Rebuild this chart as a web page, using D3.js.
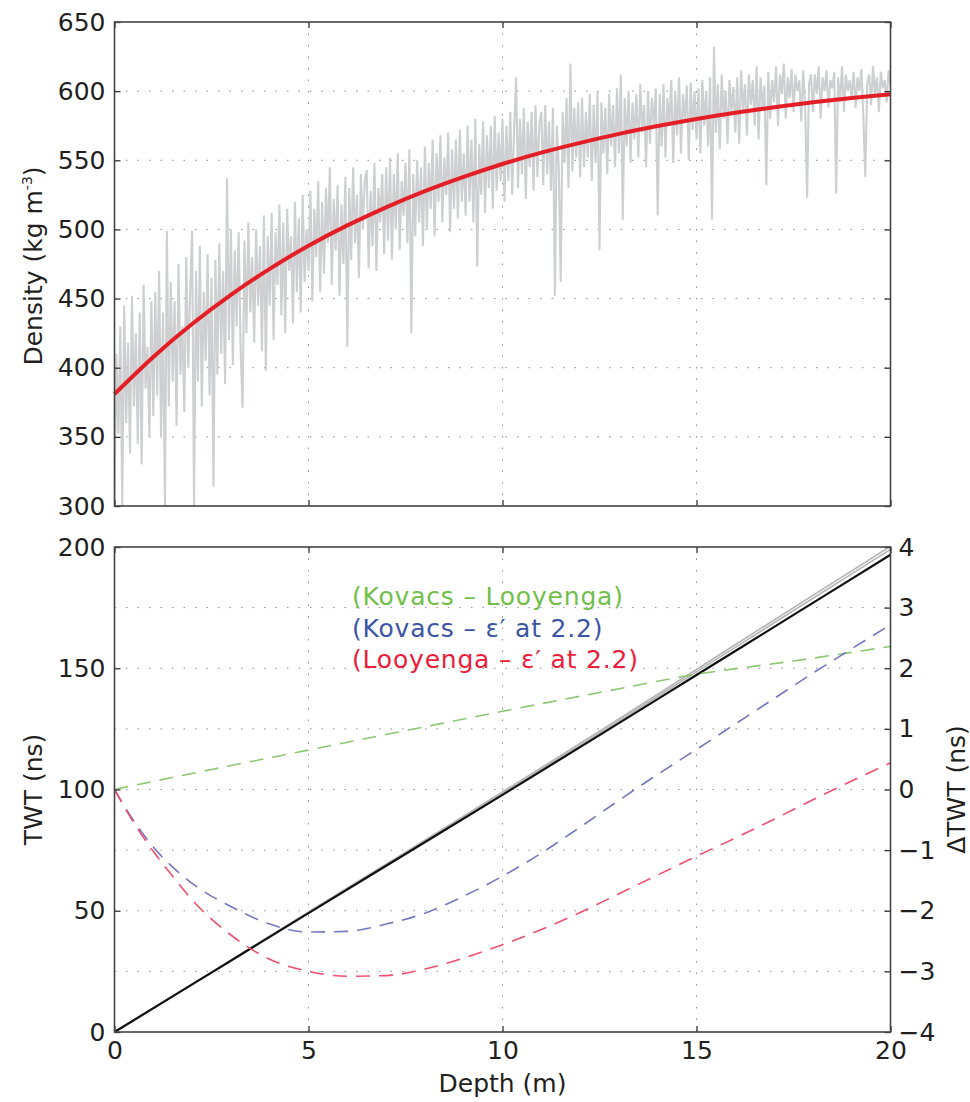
<!DOCTYPE html>
<html>
<head>
<meta charset="utf-8">
<script src="https://cdn.jsdelivr.net/npm/d3@7"></script>
<style>
body { margin: 0; background: #fff; }
text { font-family: "DejaVu Sans", sans-serif; fill: #231f20; }
.axis path { display: none; }
.axis line { stroke: #333; stroke-width: 1.3; }
.axis text { font-size: 25px; font-family: "DejaVu Sans", sans-serif; fill: #231f20; }
.grid line { stroke: #8c8c8c; stroke-width: 1; stroke-dasharray: 1.5,10; }
.frame { fill: none; stroke: #444; stroke-width: 1.6; }
</style>
</head>
<body>
<svg id="chart" width="970" height="1102"></svg>
<script>
// ---- data ----
var depthTicks = [0, 5, 10, 15, 20];
var densityTicks = [300, 350, 400, 450, 500, 550, 600, 650];
var twtTicks = [0, 50, 100, 150, 200];
var deltaTicks = [-4, -3, -2, -1, 0, 1, 2, 3, 4];

// measured density, one value every 0.05 m (rows = 1 m)
var coreStep = 0.05;
var coreDensity = [
  305, 410, 352, 430, 300, 445, 360, 418, 338, 452, 372, 425, 345, 440, 330, 460, 385, 415, 350, 448,
  365, 455, 380, 470, 350, 440, 300, 499, 372, 462, 390, 448, 358, 475, 395, 430, 368, 480, 400, 455,
  499, 300, 470, 390, 488, 372, 455, 405, 482, 380, 465, 314, 478, 395, 490, 410, 470, 388, 537, 420,
  500, 402, 485, 430, 498, 415, 371, 492, 425, 505, 440, 480, 418, 500, 445, 488, 412, 510, 398, 495,
  445, 512, 420, 498, 460, 518, 438, 505, 425, 515, 470, 495, 432, 520, 455, 508, 440, 525, 462, 500,
  470, 528, 448, 515, 480, 535, 455, 520, 468, 530, 490, 545, 460, 522, 485, 532, 452, 518, 475, 538,
  415, 530, 478, 545, 490, 525, 465, 540, 500, 535, 543, 472, 528, 488, 548, 470, 530, 505, 540, 482,
  545, 492, 552, 478, 540, 500, 555, 485, 535, 510, 548, 490, 558, 425, 540, 495, 550, 505, 545, 488,
  560, 500, 548, 515, 565, 495, 555, 520, 568, 505, 552, 525, 570, 498, 558, 515, 565, 508, 572, 520,
  555, 510, 575, 520, 565, 505, 580, 473, 562, 525, 578, 512, 568, 530, 575, 515, 582, 528, 570, 535,
  580, 520, 575, 535, 585, 525, 572, 610, 530, 580, 540, 588, 522, 578, 545, 585, 528, 590, 538, 575,
  585, 532, 590, 540, 578, 528, 588, 452, 575, 545, 462, 585, 548, 595, 530, 620, 542, 588, 552, 592,
  538, 595, 545, 585, 552, 598, 535, 590, 548, 600, 485, 592, 555, 588, 540, 598, 560, 590, 545, 602,
  555, 612, 507, 595, 560, 600, 548, 592, 565, 598, 552, 605, 570, 590, 545, 600, 562, 595, 575, 602,
  510, 598, 560, 605, 552, 595, 575, 608, 548, 600, 568, 610, 555, 598, 578, 604, 550, 606, 572, 600,
  565, 602, 555, 608, 575, 600, 560, 610, 507, 632, 570, 605, 558, 612, 580, 600, 562, 608, 585, 603,
  570, 610, 562, 615, 585, 605, 568, 612, 590, 608, 575, 618, 565, 610, 588, 604, 532, 614, 580, 608,
  592, 618, 575, 612, 598, 620, 580, 610, 595, 616, 585, 612, 600, 608, 578, 615, 590, 523, 605, 612,
  585, 612, 598, 618, 580, 610, 600, 615, 588, 608, 602, 614, 526, 610, 592, 618, 585, 612, 600, 608,
  595, 614, 588, 610, 600, 616, 582, 538, 605, 612, 590, 618, 598, 610, 585, 614, 602, 608, 592, 615,
  605
];

// fitted density curve
var fitDepth = [0, 1, 2, 3, 4, 5, 6, 7, 8, 9, 10, 11, 12, 13, 14, 15, 16, 17, 18, 19, 20];
var fitDensity = [381, 407.8, 431.6, 452.7, 471.5, 488.2, 502.9, 516, 527.7, 538, 547.3, 555.5, 562.6, 569.1, 574.8, 579.9, 584.4, 588.4, 592, 595.1, 597.8];

// two-way travel time
var twtDepth = [0, 2.5, 5, 7.5, 10, 12.5, 15, 17.5, 20];
var twtConst = [0, 24.5, 49, 73.4, 97.8, 122.4, 147.2, 172, 196.8];
var twtKovacs = [0, 24.7, 49.5, 74.2, 99, 124, 149.5, 175, 200.3];
var twtLooyenga = [0, 24.6, 49.2, 73.6, 98.4, 123.2, 148.5, 173.8, 199];

// differences (right axis)
var greenDepth = [0, 2.5, 5, 7.5, 10, 12.5, 15, 17.5, 20];
var kovLooy = [0, 0.33, 0.65, 0.97, 1.29, 1.6, 1.9, 2.12, 2.36];
var diffDepth = [0, 0.5, 1, 1.5, 2, 3, 4, 5, 6, 7, 8, 9, 10, 11, 12, 13, 14, 15, 16, 17, 18, 19, 20];
var kovConst = [0, -0.52, -0.95, -1.28, -1.55, -1.93, -2.22, -2.35, -2.34, -2.22, -2.04, -1.76, -1.43, -1.05, -0.62, -0.18, 0.25, 0.66, 1.08, 1.5, 1.92, 2.32, 2.72];
var looyConst = [0, -0.55, -1.02, -1.43, -1.82, -2.4, -2.8, -3.0, -3.08, -3.07, -2.96, -2.78, -2.56, -2.31, -2.03, -1.72, -1.41, -1.1, -0.8, -0.49, -0.17, 0.14, 0.44];

var legendLabels = ["(Kovacs \u2013 Looyenga)", "(Kovacs \u2013 \u03b5\u2032 at 2.2)", "(Looyenga \u2013 \u03b5\u2032 at 2.2)"];
var legendColors = ["#72be4b", "#3d55a5", "#ec1c3a"];
var curveColors = ["#8cc872", "#7478bd", "#f0506e"];

// ---- layout ----
var left = 114.5, right = 890.5;
var top1 = 22, bottom1 = 506;
var top2 = 547, bottom2 = 1032;

var svg = d3.select('#chart');

var x = d3.scaleLinear().domain([0, 20]).range([left, right]);
var yDen = d3.scaleLinear().domain([300, 650]).range([bottom1, top1]);
var yTwt = d3.scaleLinear().domain([0, 200]).range([bottom2, top2]);
var yDelta = d3.scaleLinear().domain([-4, 4]).range([bottom2, top2]);

function grid(g, xs, ys, y0, y1) {
    var gg = g.append('g').attr('class', 'grid');
    gg.selectAll('line.v')
        .data(xs.filter(d => d > 0 && d < 20))
        .enter().append('line')
        .attr('x1', d => x(d)).attr('x2', d => x(d))
        .attr('y1', y0).attr('y2', y1);
    gg.selectAll('line.h')
        .data(ys)
        .enter().append('line')
        .attr('x1', left).attr('x2', right)
        .attr('y1', d => d).attr('y2', d => d);
}

// ===== top panel =====
var p1 = svg.append('g');
grid(p1, depthTicks, densityTicks.slice(1, -1).map(d => yDen(d)), top1, bottom1);

p1.append('clipPath').attr('id', 'clip1')
    .append('rect').attr('x', left).attr('y', top1).attr('width', right - left).attr('height', bottom1 - top1);

var coreLine = d3.line()
    .x((d, i) => x(i * coreStep))
    .y(d => yDen(d));

p1.append('path')
    .datum(coreDensity)
    .attr('clip-path', 'url(#clip1)')
    .attr('d', coreLine)
    .attr('fill', 'none')
    .attr('stroke', '#cdcfd1')
    .attr('stroke-width', 2.1);

var fitLine = d3.line()
    .x((d, i) => x(fitDepth[i]))
    .y(d => yDen(d))
    .curve(d3.curveNatural);

p1.append('path')
    .datum(fitDensity)
    .attr('d', fitLine)
    .attr('fill', 'none')
    .attr('stroke', '#e41e26')
    .attr('stroke-width', 4);

p1.append('g').attr('class', 'axis')
    .attr('transform', `translate(${left},0)`)
    .call(d3.axisLeft(yDen).tickValues(densityTicks).tickSizeInner(-6).tickSizeOuter(0).tickPadding(9));
p1.append('g').attr('class', 'axis')
    .attr('transform', `translate(${right},0)`)
    .call(d3.axisRight(yDen).tickValues(densityTicks).tickSizeInner(-6).tickSizeOuter(0).tickFormat(''));
p1.append('g').attr('class', 'axis')
    .attr('transform', `translate(0,${bottom1})`)
    .call(d3.axisBottom(x).tickValues(depthTicks).tickSizeInner(-6).tickSizeOuter(0).tickFormat(''));
p1.append('g').attr('class', 'axis')
    .attr('transform', `translate(0,${top1})`)
    .call(d3.axisTop(x).tickValues(depthTicks).tickSizeInner(-6).tickSizeOuter(0).tickFormat(''));

p1.append('rect').attr('class', 'frame')
    .attr('x', left).attr('y', top1).attr('width', right - left).attr('height', bottom1 - top1);

var denLabel = p1.append('text')
    .attr('transform', `translate(42,${(top1 + bottom1) / 2 + 2}) rotate(-90)`)
    .attr('text-anchor', 'middle')
    .attr('font-size', '25px');
denLabel.append('tspan').text('Density (kg m');
denLabel.append('tspan').attr('font-size', '14px').attr('baseline-shift', '75%').text('-3');
denLabel.append('tspan').text(')');

// ===== bottom panel =====
var p2 = svg.append('g');
grid(p2, depthTicks, deltaTicks.slice(1, -1).map(d => yDelta(d)), top2, bottom2);

p2.append('clipPath').attr('id', 'clip2')
    .append('rect').attr('x', left).attr('y', top2).attr('width', right - left).attr('height', bottom2 - top2);

var twtLine = d3.line()
    .x((d, i) => x(twtDepth[i]))
    .y(d => yTwt(d))
    .curve(d3.curveMonotoneX);

[twtKovacs, twtLooyenga].forEach(function(s) {
    p2.append('path').datum(s)
        .attr('clip-path', 'url(#clip2)')
        .attr('d', twtLine)
        .attr('fill', 'none')
        .attr('stroke', '#b5b5b5')
        .attr('stroke-width', 1.6);
});
p2.append('path').datum(twtConst)
    .attr('d', twtLine)
    .attr('fill', 'none')
    .attr('stroke', '#111')
    .attr('stroke-width', 2.2);

function deltaLine(depths) {
    return d3.line()
        .x((d, i) => x(depths[i]))
        .y(d => yDelta(d))
        .curve(d3.curveMonotoneX);
}

var diffSeries = [[greenDepth, kovLooy], [diffDepth, kovConst], [diffDepth, looyConst]];
diffSeries.forEach(function(s, k) {
    p2.append('path').datum(s[1])
        .attr('d', deltaLine(s[0]))
        .attr('fill', 'none')
        .attr('stroke', curveColors[k])
        .attr('stroke-width', 1.6)
        .attr('stroke-dasharray', '14,9');
});

var fmtMinus = d => d < 0 ? '\u2212' + Math.abs(d) : '' + d;

p2.append('g').attr('class', 'axis')
    .attr('transform', `translate(${left},0)`)
    .call(d3.axisLeft(yTwt).tickValues(twtTicks).tickSizeInner(-6).tickSizeOuter(0).tickPadding(9));
p2.append('g').attr('class', 'axis')
    .attr('transform', `translate(${right},0)`)
    .call(d3.axisRight(yDelta).tickValues(deltaTicks).tickSizeInner(-6).tickSizeOuter(0).tickPadding(8).tickFormat(fmtMinus));
p2.append('g').attr('class', 'axis')
    .attr('transform', `translate(0,${bottom2})`)
    .call(d3.axisBottom(x).tickValues(depthTicks).tickSizeInner(-6).tickSizeOuter(0).tickPadding(9));
p2.append('g').attr('class', 'axis')
    .attr('transform', `translate(0,${top2})`)
    .call(d3.axisTop(x).tickValues(depthTicks).tickSizeInner(-6).tickSizeOuter(0).tickFormat(''));

p2.append('rect').attr('class', 'frame')
    .attr('x', left).attr('y', top2).attr('width', right - left).attr('height', bottom2 - top2);

p2.selectAll('text.legend')
    .data(legendLabels)
    .enter().append('text')
    .attr('class', 'legend')
    .attr('x', 352)
    .attr('y', (d, i) => 605 + i * 31.5)
    .attr('font-size', '25px')
    .attr('letter-spacing', '0.8')
    .style('fill', (d, i) => legendColors[i])
    .text(d => d);

p2.append('text')
    .attr('transform', `translate(42,${(top2 + bottom2) / 2}) rotate(-90)`)
    .attr('text-anchor', 'middle')
    .attr('font-size', '25px')
    .text('TWT (ns)');

p2.append('text')
    .attr('transform', `translate(965,${(top2 + bottom2) / 2}) rotate(-90)`)
    .attr('text-anchor', 'middle')
    .attr('font-size', '25px')
    .text('\u0394TWT (ns)');

p2.append('text')
    .attr('x', (left + right) / 2)
    .attr('y', 1092)
    .attr('text-anchor', 'middle')
    .attr('font-size', '25px')
    .text('Depth (m)');
</script>
</body>
</html>
